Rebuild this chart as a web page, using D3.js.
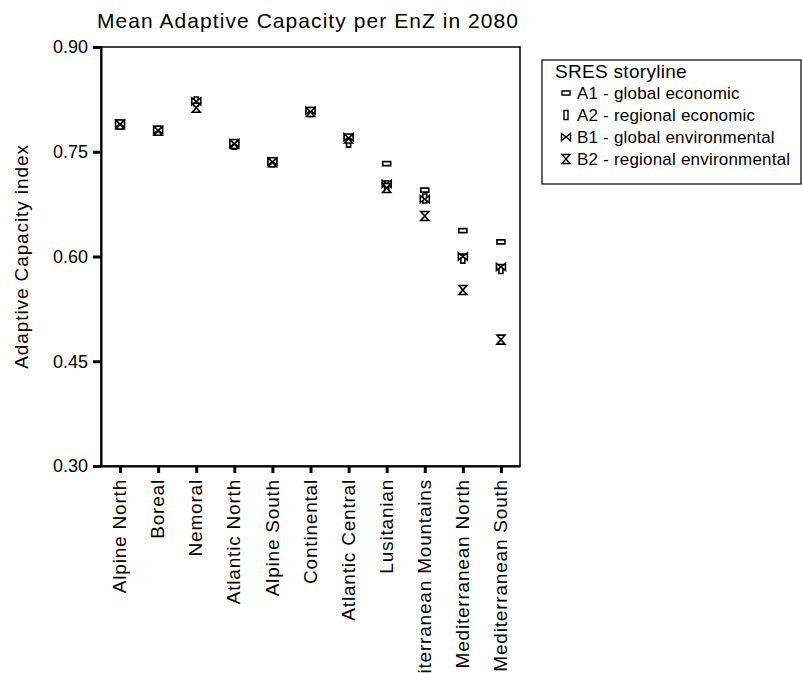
<!DOCTYPE html>
<html>
<head>
<meta charset="utf-8">
<script src="https://cdn.jsdelivr.net/npm/d3@7"></script>
<style>
  body { margin: 0; background: #fff; }
  svg { font-family: "Liberation Sans", Arial, sans-serif; }
</style>
</head>
<body>
<div id="viz"></div>
<script>
// zones on the x axis
var zones = ["Alpine North", "Boreal", "Nemoral", "Atlantic North", "Alpine South",
  "Continental", "Atlantic Central", "Lusitanian", "Mediterranean Mountains",
  "Mediterranean North", "Mediterranean South"];

// mean adaptive capacity per storyline
var a1 = [0.790, 0.781, 0.823, 0.762, 0.737, 0.809, 0.771, 0.733, 0.695, 0.637, 0.621];
var a2 = [0.789, 0.780, 0.822, 0.760, 0.735, 0.807, 0.763, 0.702, 0.683, 0.597, 0.582];
var b1 = [0.790, 0.781, 0.822, 0.762, 0.736, 0.809, 0.771, 0.704, 0.682, 0.600, 0.585];
var b2 = [0.789, 0.780, 0.813, 0.761, 0.735, 0.807, 0.769, 0.698, 0.658, 0.552, 0.481];

var yTicks = [0.30, 0.45, 0.60, 0.75, 0.90];

var storylines = [
  {key: "A1", label: "A1 - global economic", values: a1, shape: "hbar"},
  {key: "A2", label: "A2 - regional economic", values: a2, shape: "vbar"},
  {key: "B1", label: "B1 - global environmental", values: b1, shape: "bowtie"},
  {key: "B2", label: "B2 - regional environmental", values: b2, shape: "hourglass"}
];

var W = 803, H = 673;
var margin = {top: 47, left: 101, right: 283, bottom: 207};
var width = W - margin.left - margin.right,
    height = H - margin.top - margin.bottom;

var svg = d3.select("#viz").append("svg")
    .attr("width", W)
    .attr("height", H);

var x = d3.scalePoint().domain(zones).range([0, width]).padding(0.5),
    y = d3.scaleLinear().domain([0.30, 0.90]).range([height, 0]);

var g = svg.append("g")
    .attr("transform", "translate(" + margin.left + "," + margin.top + ")");

// frame
g.append("rect")
    .attr("width", width)
    .attr("height", height)
    .attr("fill", "none")
    .attr("stroke", "#000")
    .attr("stroke-width", 1.5);

var yAxis = g.append("g")
    .call(d3.axisLeft(y).tickValues(yTicks).tickFormat(d3.format(".2f")).tickSize(8).tickPadding(5));
yAxis.select(".domain").attr("stroke-width", 2);
yAxis.selectAll(".tick line").attr("stroke-width", 3);
yAxis.selectAll("text").style("font-size", "18px").attr("fill", "#000");

var xAxis = g.append("g")
    .attr("transform", "translate(0," + height + ")")
    .call(d3.axisBottom(x).tickSize(7).tickSizeOuter(0));
xAxis.select(".domain").attr("stroke-width", 2);
xAxis.selectAll(".tick line").attr("stroke-width", 3);
xAxis.selectAll("text")
    .style("font-size", "19px")
    .style("letter-spacing", "0.8px")
    .attr("fill", "#000")
    .attr("text-anchor", "end")
    .attr("dy", "0.35em")
    .attr("transform", "translate(-1,13) rotate(-90)")
    .attr("x", 0)
    .attr("y", 0);

function shapePath(s) {
  if (s == "hbar") return "M-4,-2 H4 V2 H-4 Z";
  if (s == "vbar") return "M-2,-4.5 H2 V4.5 H-2 Z";
  if (s == "bowtie") return "M-4.5,-3.5 L4.5,3.5 V-3.5 L-4.5,3.5 Z";
  return "M-4,-4.5 H4 L-4,4.5 H4 Z";
}

storylines.forEach(function(s) {
  g.append("g").selectAll("path")
      .data(s.values)
    .enter().append("path")
      .attr("d", shapePath(s.shape))
      .attr("transform", function(d, i) { return "translate(" + x(zones[i]) + "," + y(d) + ")"; })
      .attr("fill", "#fff")
      .attr("stroke", "#000")
      .attr("stroke-width", 1.6);
});

// title
svg.append("text")
    .attr("x", 97)
    .attr("y", 28)
    .attr("textLength", 421)
    .attr("lengthAdjust", "spacing")
    .style("font-size", "21px")
    .text("Mean Adaptive Capacity per EnZ in 2080");

// y label
svg.append("text")
    .attr("transform", "translate(28," + (margin.top + height / 2) + ") rotate(-90)")
    .attr("text-anchor", "middle")
    .style("font-size", "19px")
    .style("letter-spacing", "0.9px")
    .text("Adaptive Capacity index");

// legend
var lg = svg.append("g").attr("transform", "translate(542,60)");
lg.append("rect")
    .attr("width", 259)
    .attr("height", 124)
    .attr("fill", "#fff")
    .attr("stroke", "#000")
    .attr("stroke-width", 1.2);
lg.append("text")
    .attr("x", 13)
    .attr("y", 18)
    .style("font-size", "19px")
    .style("letter-spacing", "0.3px")
    .text("SRES storyline");
var items = lg.selectAll(".item")
    .data(storylines)
  .enter().append("g")
    .attr("class", "item")
    .attr("transform", function(d, i) { return "translate(0," + (33 + i * 22) + ")"; });
items.append("path")
    .attr("d", function(d) { return shapePath(d.shape); })
    .attr("transform", "translate(24,0)")
    .attr("fill", "#fff")
    .attr("stroke", "#000")
    .attr("stroke-width", 1.4);
items.append("text")
    .attr("x", 35)
    .attr("dy", "0.35em")
    .style("font-size", "17px")
    .style("letter-spacing", "0.2px")
    .text(function(d) { return d.label; });
</script>
</body>
</html>
